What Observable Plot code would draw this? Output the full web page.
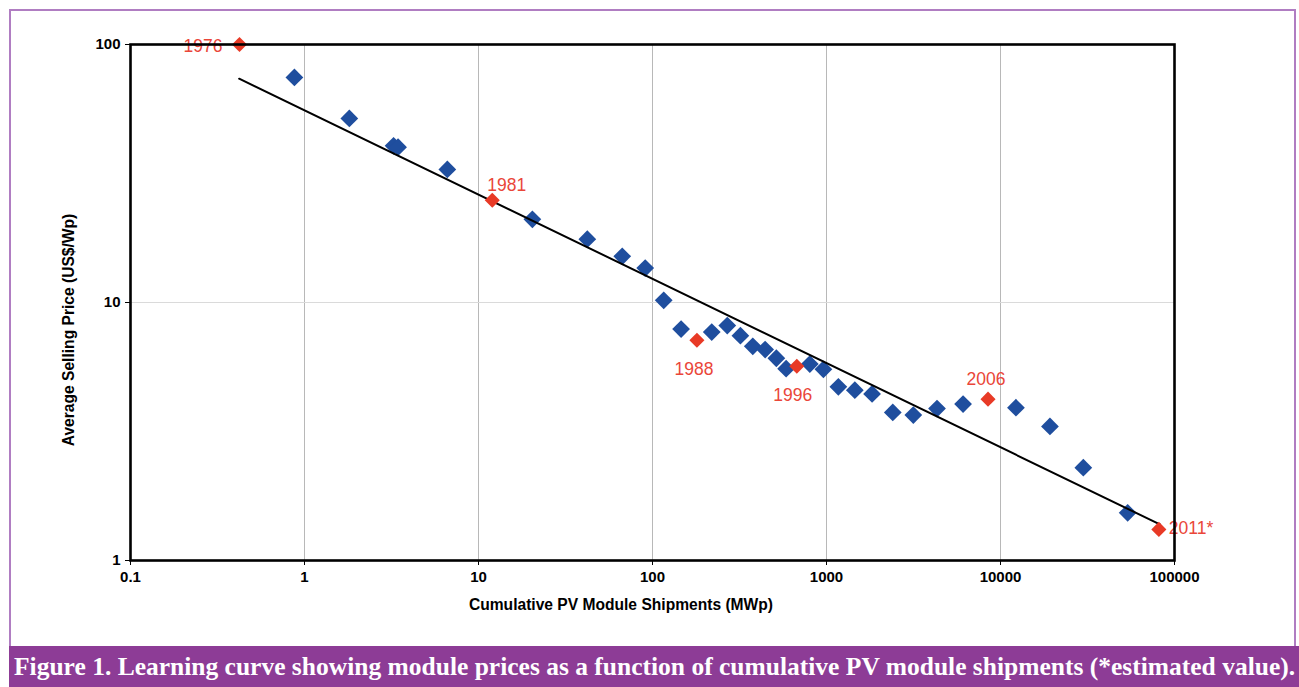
<!DOCTYPE html>
<html>
<head>
<meta charset="utf-8">
<script src="https://cdn.jsdelivr.net/npm/d3@7"></script>
<script src="https://cdn.jsdelivr.net/npm/@observablehq/plot@0.6"></script>
<style>
  html, body { margin: 0; padding: 0; background: #fff; }
  #page { position: relative; width: 1299px; height: 687px; background: #fff; overflow: hidden; }
  #border { position: absolute; left: 9px; top: 9px; width: 1287px; height: 660px; border: 2px solid #b07dc2; box-sizing: border-box; }
  #chart { position: absolute; left: 0; top: 0; }
  .axis-title { position: absolute; font-family: "Liberation Sans", Arial, sans-serif; font-weight: bold; font-size: 15.6px; color: #000; white-space: nowrap; }
  #ytitle { left: 69px; top: 330px; transform: translate(-50%, -50%) rotate(-90deg); }
  #xtitle { left: 621px; top: 605px; transform: translate(-50%, -50%); }
  #caption { position: absolute; left: 9px; top: 646px; width: 1290px; height: 41px; background: #8d3c96; color: #fff;
             font-family: "Liberation Serif", "DejaVu Serif", serif; font-weight: bold; font-size: 25.5px; line-height: 41px;
             padding-left: 5px; box-sizing: border-box; white-space: nowrap; }
</style>
</head>
<body>
<div id="page">
  <div id="border"></div>
  <div id="chart"></div>
  <div class="axis-title" id="ytitle">Average Selling Price (US$/Wp)</div>
  <div class="axis-title" id="xtitle">Cumulative PV Module Shipments (MWp)</div>
  <div id="caption">Figure 1. Learning curve showing module prices as a function of cumulative PV module shipments (*estimated value).</div>
</div>
<script>
// Cumulative shipments (MWp) and average module selling price (US$/Wp), yearly observations
const shipments = [0.875, 1.81, 3.25, 3.45, 6.62, 20.4, 42.2, 67.0, 90.8, 116, 146, 219, 269, 320, 377, 444, 515, 586,
                   802, 960, 1170, 1455, 1828, 2404, 3155, 4317, 6095, 12270, 19240, 29920, 53800];
const prices    = [74.5, 51.7, 40.5, 40.0, 32.8, 21.0, 17.6, 15.1, 13.6, 10.2, 7.89, 7.68, 8.14, 7.44, 6.76, 6.57, 6.08, 5.54,
                   5.77, 5.51, 4.71, 4.57, 4.42, 3.75, 3.66, 3.88, 4.04, 3.91, 3.31, 2.29, 1.53];

// Highlighted years
const keyYears     = ["1976", "1981", "1988", "1996", "2006", "2011*"];
const keyShipments = [0.423, 12.0, 180, 675, 8478, 81300];
const keyPrices    = [100, 24.9, 7.14, 5.66, 4.22, 1.32];

// Learning-curve fit (a straight line on log–log axes)
const fitShipments = [0.421, 82400];
const fitPrices    = [73.7, 1.38];

// Axis ticks
const xTicks = [0.1, 1, 10, 100, 1000, 10000, 100000];
const yTicks = [1, 10, 100];
const yGrid  = [10];

const points = shipments.map((x, i) => ({x, y: prices[i]}));
const keys = keyYears.map((label, i) => ({label, x: keyShipments[i], y: keyPrices[i]}));
const fit = fitShipments.map((x, i) => ({x, y: fitPrices[i]}));

// Label placement for each highlighted year
const placement = {
  "1976":  {textAnchor: "end",    dx: -17, dy: 2},
  "1981":  {textAnchor: "start",  dx: -5,  dy: -15},
  "1988":  {textAnchor: "middle", dx: -3,  dy: 29},
  "1996":  {textAnchor: "middle", dx: -4,  dy: 29},
  "2006":  {textAnchor: "middle", dx: -2,  dy: -20},
  "2011*": {textAnchor: "start",  dx: 10,  dy: -1}
};

const red = "#e83a26";
const blue = "#1f4e9e";
const tickFont = {fontFamily: "Liberation Sans, Arial, sans-serif", fontWeight: "bold", fontSize: 15};

const chart = Plot.plot({
  width: 1299,
  height: 630,
  marginLeft: 130,
  marginRight: 125,
  marginTop: 44,
  marginBottom: 70,
  style: {background: "transparent", color: "#000", fontFamily: "Liberation Sans, Arial, sans-serif"},
  x: {type: "log", domain: [0.1, 100000]},
  y: {type: "log", domain: [1, 100]},
  marks: [
    Plot.ruleX(xTicks.slice(1, -1), {stroke: "#b8b8b8", strokeWidth: 1}),
    Plot.ruleY(yGrid, {stroke: "#dadada", strokeWidth: 1}),
    Plot.dot(points, {x: "x", y: "y", symbol: "diamond2", r: 8, fill: blue, stroke: "none"}),
    Plot.line(fit, {x: "x", y: "y", stroke: "#000", strokeWidth: 2}),
    Plot.dot(keys, {x: "x", y: "y", symbol: "diamond2", r: 6.8, fill: red, stroke: "none"}),
    ...Object.entries(placement).map(([label, p]) =>
      Plot.text(keys, {filter: d => d.label === label, x: "x", y: "y", text: "label",
                       fill: "#ea4639", fontSize: 17.5, fontFamily: "Liberation Sans, Arial, sans-serif", ...p})),
    Plot.axisX({ticks: xTicks, tickFormat: d => String(d), tickSize: 5, tickPadding: 6, label: null, ...tickFont}),
    Plot.axisY({ticks: yTicks, tickFormat: d => String(d), tickSize: 5, tickPadding: 5, label: null, ...tickFont}),
    Plot.frame({stroke: "#000", strokeWidth: 2.6})
  ]
});
document.getElementById("chart").append(chart);
</script>
</body>
</html>
